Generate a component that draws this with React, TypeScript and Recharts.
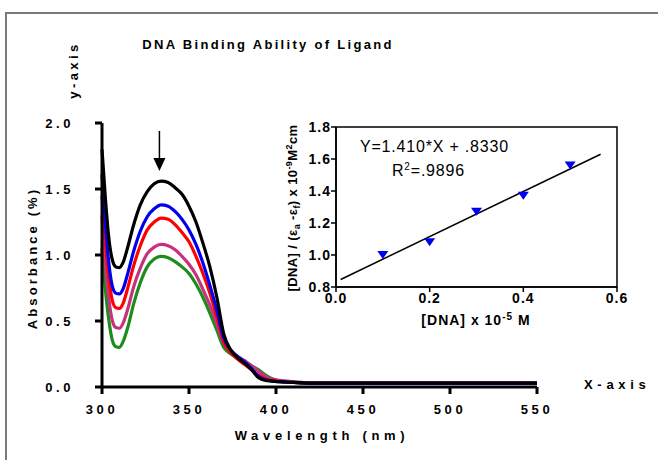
import React from "react";
import {
  LineChart,
  Line,
  XAxis,
  YAxis,
  ComposedChart,
  Scatter,
  ReferenceLine,
  ReferenceArea,
  ReferenceDot,
} from "recharts";

const FONT = "'Liberation Sans', Arial, Helvetica, sans-serif";

// main spectrum: wavelength (nm) vs absorbance
const WAVELENGTH = [300, 302, 304, 306, 308, 310, 312, 315, 318, 322, 326, 330, 334, 338, 342, 346, 350, 354, 358, 362, 366, 370, 374, 378, 382, 386, 390, 394, 398, 402, 410, 420, 450, 500, 550];
const BLACK = [1.8, 1.42, 1.12, 0.96, 0.91, 0.905, 0.94, 1.07, 1.22, 1.38, 1.48, 1.54, 1.56, 1.55, 1.51, 1.46, 1.37, 1.25, 1.09, 0.91, 0.68, 0.4, 0.28, 0.22, 0.18, 0.13, 0.07, 0.05, 0.045, 0.04, 0.035, 0.03, 0.03, 0.03, 0.03];
const BLUE = [1.61, 1.23, 0.93, 0.76, 0.71, 0.705, 0.74, 0.87, 1.02, 1.18, 1.29, 1.35, 1.38, 1.37, 1.33, 1.27, 1.19, 1.08, 0.94, 0.77, 0.58, 0.37, 0.28, 0.23, 0.19, 0.14, 0.08, 0.055, 0.045, 0.04, 0.035, 0.03, 0.03, 0.03, 0.03];
const RED = [1.45, 1.09, 0.82, 0.65, 0.6, 0.595, 0.63, 0.76, 0.91, 1.07, 1.19, 1.25, 1.28, 1.27, 1.23, 1.17, 1.1, 0.99, 0.86, 0.71, 0.53, 0.34, 0.26, 0.21, 0.17, 0.13, 0.09, 0.06, 0.05, 0.04, 0.035, 0.03, 0.03, 0.03, 0.03];
const MAGENTA = [1.3, 0.93, 0.66, 0.5, 0.45, 0.445, 0.48, 0.6, 0.75, 0.9, 1.01, 1.06, 1.08, 1.07, 1.04, 0.99, 0.93, 0.85, 0.74, 0.62, 0.48, 0.33, 0.27, 0.23, 0.2, 0.16, 0.12, 0.08, 0.06, 0.05, 0.04, 0.03, 0.03, 0.03, 0.03];
const GREEN = [1.05, 0.73, 0.5, 0.35, 0.305, 0.3, 0.34, 0.46, 0.62, 0.79, 0.91, 0.97, 0.99, 0.98, 0.95, 0.91, 0.86, 0.78, 0.68, 0.56, 0.43, 0.3, 0.25, 0.22, 0.19, 0.16, 0.13, 0.09, 0.06, 0.045, 0.035, 0.03, 0.03, 0.03, 0.03];

const X_TICKS = [300, 350, 400, 450, 500, 550];
const Y_TICKS = [0, 0.5, 1, 1.5, 2];

// arrow marking the decreasing peak
const ARROW_X = 333;
const ARROW_TOP = 1.94;
const ARROW_HEAD = 1.686;

// inset: [DNA] vs [DNA]/(ea-ef)
const DNA = [0.1, 0.2, 0.3, 0.4, 0.5];
const RATIO = [1.0, 1.08, 1.27, 1.37, 1.56];
const FIT_X = [0.01, 0.565];
const FIT_Y = [0.847, 1.63];
const INSET_X_TICKS = [0, 0.2, 0.4, 0.6];
const INSET_Y_TICKS = [0.8, 1.0, 1.2, 1.4, 1.6, 1.8];

const spectra = WAVELENGTH.map((wl, i) => ({
  wl,
  black: BLACK[i],
  blue: BLUE[i],
  red: RED[i],
  magenta: MAGENTA[i],
  green: GREEN[i],
}));

const points = DNA.map((x, i) => ({ x, y: RATIO[i] }));

const series = [
  { key: "green", color: "#1c8c1c" },
  { key: "magenta", color: "#c8327d" },
  { key: "red", color: "#ff0000" },
  { key: "blue", color: "#0000f0" },
  { key: "black", color: "#000000" },
];

const tickBold = { fill: "#000", fontSize: 13, fontWeight: "bold", fontFamily: FONT, letterSpacing: 3.6 };
const insetTick = { fill: "#000", fontSize: 14, fontWeight: "bold", fontFamily: FONT, letterSpacing: 1 };

function DownTriangle(props: any) {
  const { cx, cy } = props;
  return <path d={`M${cx - 5.5},${cy - 4} L${cx + 5.5},${cy - 4} L${cx},${cy + 4} Z`} fill="#0000f0" />;
}

function ArrowHead(props: any) {
  const { cx, cy } = props;
  return <path d={`M${cx - 6},${cy - 6.5} L${cx + 6},${cy - 6.5} L${cx},${cy + 6.5} Z`} fill="#000" />;
}

export default function App() {
  return (
    <div style={{ position: "absolute", left: 0, top: 0, width: 658, height: 460, background: "#fff", fontFamily: FONT }}>
      <div style={{ position: "absolute", left: 0, top: 0 }}>
        <LineChart width={658} height={460} data={spectra} margin={{ top: 123, right: 121, bottom: 0, left: 0 }}>
          <XAxis
            dataKey="wl"
            type="number"
            domain={[300, 550]}
            ticks={X_TICKS}
            height={73}
            tickSize={7}
            tickMargin={11}
            axisLine={{ stroke: "#000", strokeWidth: 3 }}
            tickLine={{ stroke: "#000", strokeWidth: 3 }}
            tick={tickBold}
          />
          <YAxis
            type="number"
            domain={[0, 2]}
            ticks={Y_TICKS}
            width={102}
            tickSize={7}
            tickMargin={21}
            axisLine={{ stroke: "#000", strokeWidth: 3 }}
            tickLine={{ stroke: "#000", strokeWidth: 3 }}
            tick={tickBold}
            tickFormatter={(v: number) => v.toFixed(1)}
          />
          {series.map((s) => (
            <Line
              key={s.key}
              type="monotone"
              dataKey={s.key}
              stroke={s.color}
              strokeWidth={3.2}
              dot={false}
              isAnimationActive={false}
            />
          ))}
          <ReferenceLine
            segment={[{ x: ARROW_X, y: ARROW_TOP }, { x: ARROW_X, y: ARROW_HEAD }]}
            stroke="#000"
            strokeWidth={1.5}
          />
          <ReferenceDot x={ARROW_X} y={ARROW_HEAD} shape={ArrowHead} />
        </LineChart>
      </div>

      <div style={{ position: "absolute", left: 0, top: 0 }}>
        <ComposedChart width={658} height={460} data={points} margin={{ top: 127, right: 41, bottom: 0, left: 0 }}>
          <XAxis
            dataKey="x"
            type="number"
            domain={[0, 0.6]}
            ticks={INSET_X_TICKS}
            height={173}
            tickSize={5}
            tickMargin={1}
            axisLine={{ stroke: "#000", strokeWidth: 1.5 }}
            tickLine={{ stroke: "#000", strokeWidth: 1.5 }}
            tick={insetTick}
            tickFormatter={(v: number) => v.toFixed(1)}
          />
          <YAxis
            type="number"
            domain={[0.8, 1.8]}
            ticks={INSET_Y_TICKS}
            width={336}
            tickSize={5}
            tickMargin={0}
            axisLine={{ stroke: "#000", strokeWidth: 1.5 }}
            tickLine={{ stroke: "#000", strokeWidth: 1.5 }}
            tick={insetTick}
            tickFormatter={(v: number) => v.toFixed(1)}
          />
          <ReferenceArea x1={0} x2={0.6} y1={0.8} y2={1.8} fill="none" stroke="#000" strokeWidth={1.5} />
          <ReferenceLine
            segment={[{ x: FIT_X[0], y: FIT_Y[0] }, { x: FIT_X[1], y: FIT_Y[1] }]}
            stroke="#000"
            strokeWidth={1.5}
          />
          <Scatter dataKey="y" shape={DownTriangle} isAnimationActive={false} />
        </ComposedChart>
      </div>

      <svg width={658} height={460} style={{ position: "absolute", left: 0, top: 0, pointerEvents: "none" }}>
        <line x1={6} y1={13} x2={658} y2={13} stroke="#7a7a7a" strokeWidth={2} />
        <line x1={6} y1={12} x2={6} y2={460} stroke="#7a7a7a" strokeWidth={2} />

        <text x={268} y={49} textAnchor="middle" fontSize={13} fontWeight="bold" letterSpacing={2.3} fontFamily={FONT}>
          DNA Binding Ability of Ligand
        </text>
        <text transform="translate(78,70) rotate(-90)" textAnchor="middle" fontSize={13} fontWeight="bold" letterSpacing={3.4} fontFamily={FONT}>
          y-axis
        </text>
        <text transform="translate(37,258) rotate(-90)" textAnchor="middle" fontSize={13} fontWeight="bold" letterSpacing={3.1} fontFamily={FONT}>
          Absorbance (%)
        </text>
        <text x={322} y={440} textAnchor="middle" fontSize={13} fontWeight="bold" letterSpacing={4.7} fontFamily={FONT}>
          Wavelength (nm)
        </text>
        <text x={584} y={389} fontSize={13} fontWeight="bold" letterSpacing={4.7} fontFamily={FONT}>
          X-axis
        </text>

        <text x={360} y={152} fontSize={16} letterSpacing={0.8} fontFamily={FONT}>
          Y=1.410*X + .8330
        </text>
        <text x={392} y={176} fontSize={16} letterSpacing={0.8} fontFamily={FONT}>
          R<tspan fontSize={10} dy={-6}>2</tspan>
          <tspan dy={6}>=.9896</tspan>
        </text>

        <text transform="translate(297,208) rotate(-90)" textAnchor="middle" fontSize={13} fontWeight="bold" letterSpacing={0.4} fontFamily={FONT}>
          [DNA] / (ε<tspan fontSize={9} dy={3}>a</tspan>
          <tspan dy={-3}> -ε</tspan>
          <tspan fontSize={9} dy={3}>f</tspan>
          <tspan dy={-3}>) x 10</tspan>
          <tspan fontSize={9} dy={-5}>-9</tspan>
          <tspan dy={5}>M</tspan>
          <tspan fontSize={9} dy={-5}>2</tspan>
          <tspan dy={5}>cm</tspan>
        </text>
        <text x={476} y={325} textAnchor="middle" fontSize={14} fontWeight="bold" letterSpacing={1} fontFamily={FONT}>
          [DNA] x 10<tspan fontSize={10} dy={-5}>-5</tspan>
          <tspan dy={5}> M</tspan>
        </text>
      </svg>
    </div>
  );
}
